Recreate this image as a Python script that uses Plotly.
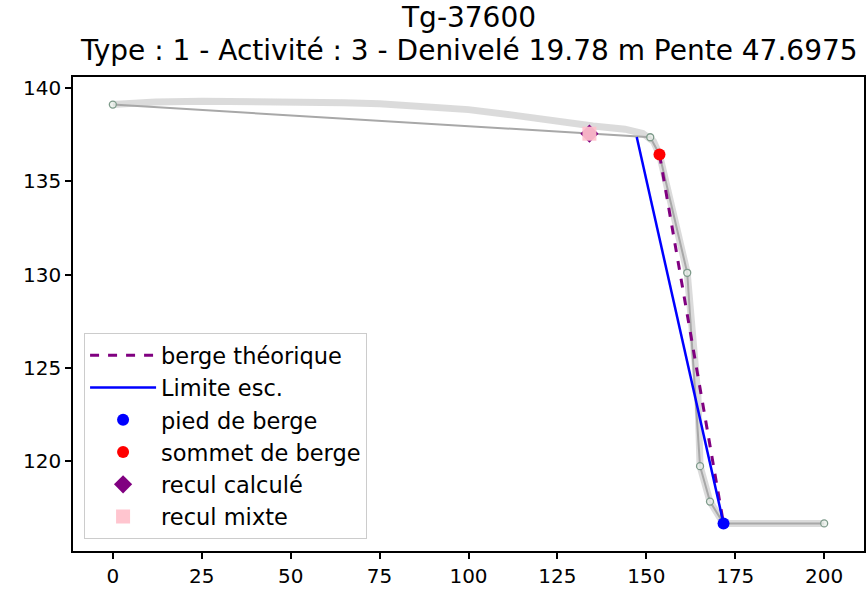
import plotly.graph_objects as go

# Raw (dense) bank profile, distance (m) vs elevation (m)
raw_x = [0, 12, 25, 40, 53, 65, 75, 88, 100, 112, 125, 135, 144, 149, 152, 153.7, 161.5, 164.5, 165.1, 167.9, 171.7, 185, 200]
raw_y = [139.12, 139.26, 139.3, 139.29, 139.26, 139.22, 139.16, 139.04, 138.85, 138.57, 138.2, 137.97, 137.8, 137.57, 137.15, 136.44, 130.1, 123.5, 119.73, 117.83, 116.66, 116.66, 116.66]

# Simplified profile vertices
prof_x = [0, 151.1, 153.7, 161.5, 165.1, 167.9, 171.7, 200]
prof_y = [139.12, 137.37, 136.44, 130.1, 119.73, 117.83, 116.66, 116.66]

# Escarpment limit
lim_x = [147.3, 171.7]
lim_y = [137.38, 116.66]

# Bank top / toe
sommet_x, sommet_y = 153.7, 136.44
pied_x, pied_y = 171.7, 116.66

# Retreat points
recul_calc_x, recul_calc_y = 134.0, 137.56
recul_mixte_x, recul_mixte_y = 134.0, 137.56

x_ticks = [0, 25, 50, 75, 100, 125, 150, 175, 200]
y_ticks = [120, 125, 130, 135, 140]

title_line1 = "Tg-37600"
title_line2 = "Type : 1 - Activité : 3 - Denivelé 19.78 m Pente 47.6975"

FONT = "DejaVu Sans"

fig = go.Figure()

fig.add_trace(go.Scatter(
    x=raw_x, y=raw_y, mode="lines",
    line=dict(color="rgba(195,195,195,0.6)", width=7),
    showlegend=False, hoverinfo="skip"))

fig.add_trace(go.Scatter(
    x=prof_x, y=prof_y, mode="lines+markers",
    line=dict(color="#a8a8a8", width=2),
    marker=dict(symbol="circle", size=7, color="rgba(235,240,235,0.8)",
                line=dict(color="#7d9a8a", width=1.3)),
    showlegend=False, hoverinfo="skip"))

fig.add_trace(go.Scatter(
    x=[sommet_x, pied_x], y=[sommet_y, pied_y], mode="lines",
    line=dict(color="purple", width=3, dash="dash"),
    name="berge théorique", legendrank=1))

fig.add_trace(go.Scatter(
    x=lim_x, y=lim_y, mode="lines",
    line=dict(color="blue", width=2.5),
    name="Limite esc.", legendrank=2))

fig.add_trace(go.Scatter(
    x=[pied_x], y=[pied_y], mode="markers",
    marker=dict(symbol="circle", size=12, color="blue"),
    name="pied de berge", legendrank=3))

fig.add_trace(go.Scatter(
    x=[sommet_x], y=[sommet_y], mode="markers",
    marker=dict(symbol="circle", size=12, color="red"),
    name="sommet de berge", legendrank=4))

fig.add_trace(go.Scatter(
    x=[recul_calc_x], y=[recul_calc_y], mode="markers",
    marker=dict(symbol="diamond", size=14, color="purple"),
    name="recul calculé", legendrank=5))

fig.add_trace(go.Scatter(
    x=[recul_mixte_x], y=[recul_mixte_y], mode="markers",
    marker=dict(symbol="square", size=14, color="pink", opacity=0.92),
    name="recul mixte", legendrank=6))

axis_common = dict(
    showline=True, linecolor="black", linewidth=1.5, mirror=True,
    ticks="outside", ticklen=6, tickwidth=1.5, tickcolor="black",
    showgrid=False, zeroline=False, automargin=False,
    tickfont=dict(family=FONT, size=20, color="black"),
)

fig.update_xaxes(range=[-11.2, 211.2], tickvals=x_ticks, **axis_common)
fig.update_yaxes(range=[115.18, 140.6], tickvals=y_ticks, **axis_common)

fig.add_annotation(text=title_line1, xref="paper", yref="paper",
                   x=0.5, y=1.0, yshift=60, xanchor="center", yanchor="middle",
                   showarrow=False, font=dict(family=FONT, size=28, color="black"))
fig.add_annotation(text=title_line2, xref="paper", yref="paper",
                   x=0.5, y=1.0, yshift=27, xanchor="center", yanchor="middle",
                   showarrow=False, font=dict(family=FONT, size=28, color="black"))

fig.update_layout(
    width=866, height=591,
    margin=dict(l=73, r=2, t=77, b=40),
    paper_bgcolor="white", plot_bgcolor="white",
    legend=dict(
        x=0.014, y=0.025, xanchor="left", yanchor="bottom",
        bgcolor="rgba(255,255,255,0.8)", bordercolor="#cccccc", borderwidth=1,
        font=dict(family=FONT, size=22.5, color="black"),
        tracegroupgap=0, itemwidth=66),
    showlegend=True,
)

fig.write_html("out.html")
